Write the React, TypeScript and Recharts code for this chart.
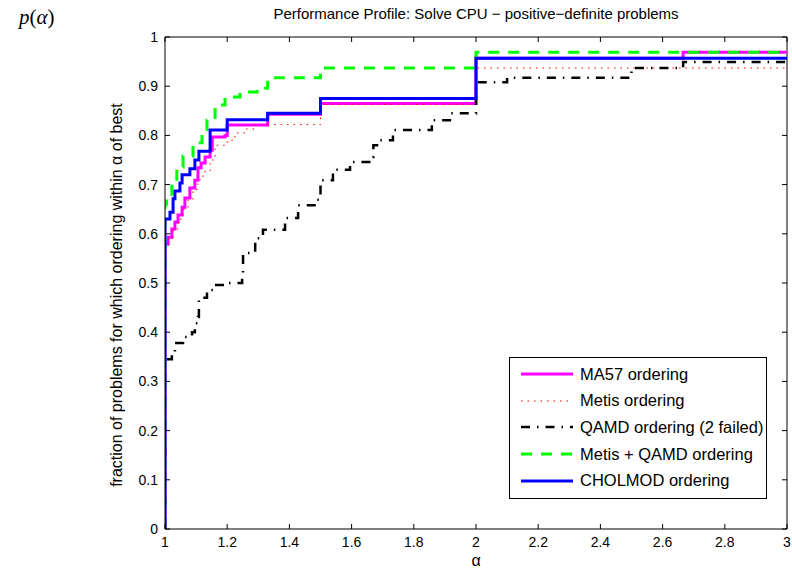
import { LineChart, Line, XAxis, YAxis, ReferenceLine, Legend } from 'recharts'

// axis ticks
const alphaTicks = [1, 1.2, 1.4, 1.6, 1.8, 2, 2.2, 2.4, 2.6, 2.8, 3]
const pTicks = [0, 0.1, 0.2, 0.3, 0.4, 0.5, 0.6, 0.7, 0.8, 0.9, 1]

// MA57 ordering
const ma57Alpha = [1, 1, 1.01, 1.022, 1.032, 1.042, 1.055, 1.064, 1.08, 1.096, 1.106, 1.116, 1.129, 1.145, 1.152, 1.193, 1.2, 1.33, 1.5, 2, 2.666, 3]
const ma57P = [0, 0.58, 0.593, 0.61, 0.624, 0.638, 0.654, 0.673, 0.693, 0.709, 0.734, 0.744, 0.756, 0.77, 0.797, 0.8, 0.821, 0.843, 0.865, 0.957, 0.969, 0.969]

// Metis ordering
const metisAlpha = [1, 1, 1.01, 1.026, 1.042, 1.058, 1.074, 1.09, 1.106, 1.122, 1.145, 1.161, 1.2, 1.225, 1.26, 1.29, 1.5, 2, 3]
const metisP = [0, 0.575, 0.59, 0.61, 0.63, 0.65, 0.67, 0.69, 0.71, 0.726, 0.75, 0.78, 0.79, 0.805, 0.813, 0.822, 0.863, 0.937, 0.937]

// QAMD ordering (2 failed)
const qamdAlpha = [1, 1, 1.022, 1.032, 1.058, 1.087, 1.096, 1.106, 1.109, 1.135, 1.16, 1.2, 1.248, 1.251, 1.29, 1.315, 1.386, 1.428, 1.489, 1.5, 1.54, 1.595, 1.666, 1.67, 1.69, 1.733, 1.858, 1.916, 2, 2.1, 2.5, 2.666, 3]
const qamdP = [0, 0.345, 0.358, 0.378, 0.39, 0.4, 0.418, 0.431, 0.47, 0.486, 0.496, 0.5, 0.52, 0.561, 0.591, 0.608, 0.632, 0.658, 0.669, 0.709, 0.73, 0.746, 0.756, 0.78, 0.79, 0.811, 0.831, 0.845, 0.908, 0.917, 0.937, 0.949, 0.949]

// Metis + QAMD ordering
const mqAlpha = [1, 1, 1.005, 1.022, 1.038, 1.058, 1.09, 1.119, 1.135, 1.161, 1.193, 1.241, 1.296, 1.33, 1.5, 2, 3]
const mqP = [0, 0.66, 0.675, 0.703, 0.736, 0.758, 0.785, 0.803, 0.831, 0.862, 0.878, 0.888, 0.896, 0.917, 0.937, 0.969, 0.969]

// CHOLMOD ordering
const cholAlpha = [1, 1, 1.016, 1.026, 1.032, 1.048, 1.055, 1.08, 1.096, 1.109, 1.145, 1.2, 1.33, 1.5, 2, 3]
const cholP = [0, 0.63, 0.644, 0.671, 0.687, 0.703, 0.72, 0.732, 0.75, 0.768, 0.811, 0.832, 0.845, 0.875, 0.957, 0.957]

const toPoints = (a: number[], p: number[]) => a.map((alpha, i) => ({ alpha, p: p[i] }))

const series = [
	{ name: 'MA57 ordering', data: toPoints(ma57Alpha, ma57P), color: '#ff00ff', width: 3, dash: undefined },
	{ name: 'Metis ordering', data: toPoints(metisAlpha, metisP), color: '#ff0000', width: 1, dash: '1.5 5' },
	{ name: 'QAMD ordering (2 failed)', data: toPoints(qamdAlpha, qamdP), color: '#000000', width: 2.5, dash: '9 7 1.5 7' },
	{ name: 'Metis + QAMD ordering', data: toPoints(mqAlpha, mqP), color: '#00ff00', width: 3, dash: '11 9' },
	{ name: 'CHOLMOD ordering', data: toPoints(cholAlpha, cholP), color: '#0000ff', width: 3, dash: undefined },
]

const W = 792
const H = 574
const LEFT = 165
const RIGHT = 787
const TOP = 37
const BOTTOM = 529
const FONT = '"Liberation Sans", Arial, Helvetica, sans-serif'

const XTick = (props: any) => {
	const { x, y, payload } = props
	return (
		<g>
			<line x1={x} x2={x} y1={BOTTOM} y2={BOTTOM - 5} stroke='#000' />
			<line x1={x} x2={x} y1={TOP} y2={TOP + 5} stroke='#000' />
			<text x={x} y={y} dy={12} textAnchor='middle' fontSize={14} fontFamily={FONT} fill='#000'>
				{payload.value}
			</text>
		</g>
	)
}

const YTick = (props: any) => {
	const { x, y, payload } = props
	return (
		<g>
			<line x1={LEFT} x2={LEFT + 5} y1={y} y2={y} stroke='#000' />
			<line x1={RIGHT - 5} x2={RIGHT} y1={y} y2={y} stroke='#000' />
			<text x={x} y={y} dy={5} textAnchor='end' fontSize={14} fontFamily={FONT} fill='#000'>
				{payload.value}
			</text>
		</g>
	)
}

const LegendBox = () => (
	<div
		style={{
			border: '1px solid #000',
			background: '#fff',
			width: 256,
			padding: '3px 0 4px 0',
			fontFamily: FONT,
			fontSize: 16.5,
			color: '#000',
		}}
	>
		{series.map((s) => (
			<div key={s.name} style={{ display: 'flex', alignItems: 'center', height: 26.6 }}>
				<svg width={70} height={10} style={{ display: 'block', flex: 'none' }}>
					<line
						x1={11}
						x2={63}
						y1={5}
						y2={5}
						stroke={s.color}
						strokeWidth={s.width}
						strokeDasharray={s.dash}
					/>
				</svg>
				<span style={{ whiteSpace: 'nowrap' }}>{s.name}</span>
			</div>
		))}
	</div>
)

export default function App() {
	return (
		<div style={{ position: 'absolute', left: 0, top: 0, width: W, height: H, background: '#fff' }}>
			<LineChart width={W} height={H} margin={{ top: TOP, right: W - RIGHT, bottom: 15, left: 140 }}>
				<XAxis
					dataKey='alpha'
					type='number'
					domain={[1, 3]}
					ticks={alphaTicks}
					allowDataOverflow
					height={30}
					tickSize={0}
					tickMargin={6}
					tickLine={false}
					stroke='#000'
					tick={<XTick />}
				/>
				<YAxis
					type='number'
					domain={[0, 1]}
					ticks={pTicks}
					allowDataOverflow
					width={25}
					tickSize={0}
					tickMargin={7}
					tickLine={false}
					stroke='#000'
					tick={<YTick />}
				/>
				<ReferenceLine y={1} stroke='#000' />
				<ReferenceLine x={3} stroke='#000' />
				{series.map((s) => (
					<Line
						key={s.name}
						data={s.data}
						dataKey='p'
						name={s.name}
						type='stepAfter'
						stroke={s.color}
						strokeWidth={s.width}
						strokeDasharray={s.dash}
						dot={false}
						activeDot={false}
						isAnimationActive={false}
					/>
				))}
				<Legend
					layout='vertical'
					align='center'
					verticalAlign='middle'
					content={<LegendBox />}
					wrapperStyle={{ left: 509, top: 357, width: 258, height: 'auto' }}
				/>
			</LineChart>
			<div
				style={{
					position: 'absolute',
					left: (LEFT + RIGHT) / 2,
					top: 5,
					transform: 'translateX(-50%)',
					whiteSpace: 'nowrap',
					fontFamily: FONT,
					fontSize: 15,
				}}
			>
				Performance Profile: Solve CPU − positive−definite problems
			</div>
			<div
				style={{
					position: 'absolute',
					left: 117,
					top: 295,
					transform: 'translate(-50%, -50%) rotate(-90deg)',
					whiteSpace: 'nowrap',
					fontFamily: FONT,
					fontSize: 16,
				}}
			>
				fraction of problems for which ordering within α of best
			</div>
			<div
				style={{
					position: 'absolute',
					left: (LEFT + RIGHT) / 2,
					top: 552,
					transform: 'translateX(-50%)',
					fontFamily: FONT,
					fontSize: 16,
				}}
			>
				α
			</div>
			<div
				style={{
					position: 'absolute',
					left: 19,
					top: 5,
					fontFamily: '"Liberation Serif", "Times New Roman", serif',
					fontSize: 21,
				}}
			>
				<i>p</i>(<i>α</i>)
			</div>
		</div>
	)
}
